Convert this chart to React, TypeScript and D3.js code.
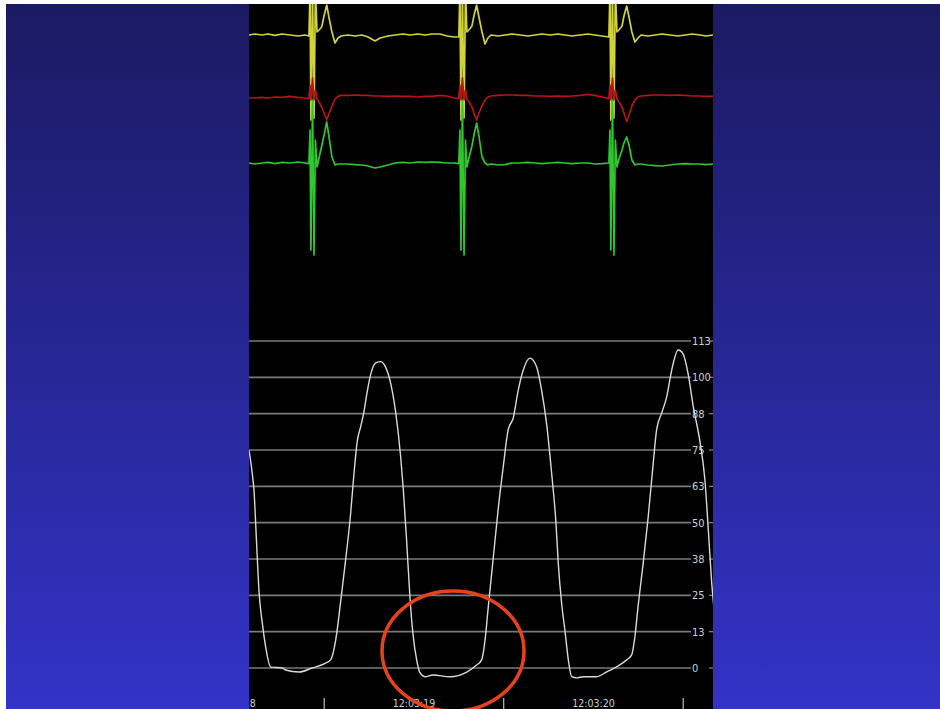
import React, { useEffect, useRef } from 'react';
import * as d3 from 'd3';

// sample times, ms after 12:03:18.000
const ecgTimes = [81, 114, 153, 187, 226, 265, 309, 354, 393, 415,
  421, 426, 435, 443, 451, 460, 471, 486, 499, 514,
  526, 543, 560, 577, 594, 633, 672, 710, 744, 783,
  811, 855, 894, 939, 978, 1022, 1061, 1100, 1145, 1184,
  1223, 1250, 1256, 1262, 1270, 1279, 1287, 1295, 1306, 1323,
  1334, 1349, 1362, 1379, 1396, 1412, 1429, 1468, 1507, 1546,
  1591, 1635, 1674, 1713, 1758, 1802, 1841, 1880, 1925, 1969,
  2008, 2047, 2086, 2092, 2097, 2106, 2114, 2122, 2131, 2142,
  2159, 2170, 2185, 2198, 2214, 2231, 2248, 2265, 2304, 2343,
  2382, 2426, 2471, 2510, 2549, 2593, 2627, 2666];

// three ECG leads, mV
const leadYellow = [0.05, 0.1, 0.05, 0.1, 0.03, 0.1, 0.05, 0, 0.05, 0,
  2.3, -4.2, 2.3, -4.1, 2.3,
  0.2, 0.3, 0.45, 1.0, 1.55, 0.95, 0.2, -0.35, -0.1, 0,
  0.05, 0, 0.05, -0.05, -0.25, -0.1, 0, 0.05, 0.1, 0.05, 0.1, 0.05, 0.1, 0.1, 0, -0.05, -0.05,
  2.3, -4.2, 2.3, -4.1, 2.3,
  0.2, 0.3, 0.5, 1.0, 1.55, 0.95, 0.2, -0.4, -0.1, 0.05,
  0, 0.05, 0.1, 0.05, 0, 0.05, 0.1, 0.05, 0.1, 0.05, 0, 0.05, 0.1, 0.05, 0, -0.05,
  2.3, -4.2, 2.3, -4.1, 2.3,
  0.2, 0.3, 0.5, 1.0, 1.5, 0.95, 0.2, -0.3, -0.1, 0.05,
  0, 0.05, 0.1, 0.05, 0, 0.05, 0.1, 0.05, 0, 0.05];

const leadRed = [0, 0, 0.03, 0, 0.05, 0.03, 0.08, 0.03, 0, -0.03,
  0.65, -0.1, 1.0, -0.1, 0.4,
  -0.05, -0.2, -0.45, -0.75, -1.1, -0.8, -0.4, -0.05, 0.08, 0.13,
  0.13, 0.15, 0.13, 0.13, 0.1, 0.1, 0.08, 0.1, 0.08, 0.08, 0.05, 0.08, 0.08, 0.13, 0.1, 0, -0.03,
  0.65, -0.1, 1.0, -0.1, 0.4,
  -0.05, -0.2, -0.45, -0.75, -1.1, -0.75, -0.4, -0.1, 0.05, 0.1,
  0.13, 0.15, 0.15, 0.13, 0.13, 0.1, 0.1, 0.08, 0.1, 0.08, 0.1, 0.13, 0.18, 0.13, 0.05, -0.03,
  0.65, -0.1, 1.0, -0.1, 0.4,
  -0.05, -0.2, -0.45, -0.75, -1.18, -0.85, -0.4, -0.1, 0.05, 0.1,
  0.13, 0.15, 0.15, 0.13, 0.15, 0.13, 0.1, 0.1, 0.08, 0.08];

const leadGreen = [0, -0.05, 0, 0.03, -0.03, 0.03, 0, 0.05, 0, -0.03,
  1.65, -4.35, 3.15, -4.6, 1.15,
  -0.2, 0.25, 0.85, 1.38, 2.05, 1.35, 0.3, -0.1, -0.05, -0.05,
  -0.05, -0.08, -0.1, -0.15, -0.25, -0.2, -0.1, 0, 0.03, 0, 0.05, 0.03, 0.05, 0.03, 0, 0, -0.03,
  1.65, -4.35, 3.15, -4.6, 1.15,
  -0.2, 0.25, 0.85, 1.38, 2.0, 1.35, 0.3, 0, -0.1, -0.05,
  -0.1, -0.08, 0, 0, 0.03, 0, -0.03, 0, 0.03, 0, -0.03, 0, 0, -0.05, -0.03, 0,
  1.65, -4.35, 3.15, -4.6, 1.15,
  -0.2, 0.2, 0.65, 1.0, 1.3, 0.9, 0.15, -0.1, -0.05, -0.05,
  -0.1, -0.13, -0.15, -0.1, -0.05, -0.03, -0.05, -0.05, -0.08, -0.05];

// pressure trace, ms after 12:03:18.000 and mmHg
const pressureTimes = [81, 99, 109, 118, 127, 136, 155, 174, 202, 266,
  285, 359, 433, 508, 536, 564, 592, 619, 647, 666,
  684, 703, 721, 738, 759, 787, 814, 842, 870, 898,
  926, 940, 959, 978, 994, 1015, 1034, 1061, 1106, 1201,
  1294, 1349, 1377, 1396, 1414, 1442, 1470, 1497, 1525, 1553,
  1581, 1609, 1646, 1684, 1711, 1739, 1767, 1791, 1804, 1823,
  1841, 1860, 1879, 1906, 1943, 2018, 2074, 2129, 2185, 2213,
  2231, 2250, 2277, 2305, 2333, 2352, 2380, 2408, 2436, 2472,
  2500, 2528, 2556, 2593, 2621, 2640, 2658, 2677];
const pressureValues = [75, 67, 61, 50, 38, 27, 15.5, 7.2, 0.3, 0,
  -0.7, -1.4, 0, 1.7, 2.8, 9.6, 23, 37, 53, 67,
  78, 83, 88, 94.5, 101, 105, 105.4, 103.5, 98, 88,
  72.6, 62, 44, 24, 12, 2.8, -1.7, -3, -2.4, -3,
  -1.4, 1, 2.8, 9.6, 21, 38, 55, 69, 82, 86,
  95.6, 102.5, 106.6, 103.5, 95.6, 84, 67, 50, 36, 22,
  13, 2.8, -3, -3.4, -3, -3, -1.3, 0.4, 2.8, 4.5,
  10.8, 22, 36, 52, 70.5, 82, 87.7, 93.3, 102.5, 109.4,
  108, 101, 90, 78, 64.7, 47.5, 30, 17];

const pressureTicks = [0, 12.5, 25, 37.5, 50, 62.5, 75, 87.5, 100, 112.5];
const timeLabels = ['12:03:18', '12:03:19', '12:03:20'];
const timeLabelMs = [0, 1000, 2000];
const timeTickMs = [500, 1500, 2500];

// the circled end-diastolic part
const circledRegion = { t0: 822, t1: 1613, v0: -14.8, v1: 26.5 };

export default function App() {
  const ref = useRef<SVGSVGElement | null>(null);

  useEffect(() => {
    const W = 940, H = 709;
    const panel = { left: 249, right: 713, top: 4, bottom: 709 };
    const font = "'Liberation Sans Narrow', 'DejaVu Sans Condensed', sans-serif";

    const svg = d3.select(ref.current);
    svg.selectAll('*').remove();

    const defs = svg.append('defs');
    const grad = defs.append('linearGradient')
      .attr('id', 'slideBg').attr('x1', 0).attr('y1', 0).attr('x2', 0).attr('y2', 1);
    grad.append('stop').attr('offset', 0).attr('stop-color', '#1b1a62');
    grad.append('stop').attr('offset', 1).attr('stop-color', '#3333c8');
    defs.append('clipPath').attr('id', 'panelClip')
      .append('rect')
      .attr('x', panel.left).attr('y', panel.top)
      .attr('width', panel.right - panel.left).attr('height', panel.bottom - panel.top);

    svg.append('rect').attr('width', W).attr('height', H).attr('fill', '#fff');
    svg.append('rect').attr('x', 6).attr('y', 4).attr('width', W - 6).attr('height', H - 4)
      .attr('fill', 'url(#slideBg)');
    svg.append('rect')
      .attr('x', panel.left).attr('y', panel.top)
      .attr('width', panel.right - panel.left).attr('height', panel.bottom - panel.top)
      .attr('fill', '#000');

    const x = d3.scaleLinear().domain([81, 2666]).range([panel.left, panel.right]);
    const yP = d3.scaleLinear().domain([0, 112.5]).range([668, 341]);

    const plot = svg.append('g').attr('clip-path', 'url(#panelClip)');

    // pressure grid + right axis
    const gridRight = 691;
    plot.selectAll('line.grid')
      .data(pressureTicks)
      .join('line')
      .attr('class', 'grid')
      .attr('x1', panel.left).attr('x2', gridRight)
      .attr('y1', d => yP(d)).attr('y2', d => yP(d))
      .attr('stroke', '#7a7a7a').attr('stroke-width', 1.6);

    plot.selectAll('line.rtick')
      .data(pressureTicks)
      .join('line')
      .attr('class', 'rtick')
      .attr('x1', 709).attr('x2', panel.right)
      .attr('y1', d => yP(d)).attr('y2', d => yP(d))
      .attr('stroke', '#8a8a8a').attr('stroke-width', 1.2);

    plot.selectAll('text.rlab')
      .data(pressureTicks)
      .join('text')
      .attr('class', 'rlab')
      .attr('x', 692)
      .attr('y', d => yP(d))
      .attr('dy', '0.35em')
      .attr('fill', '#cfcfcf')
      .style('font-family', font)
      .style('font-size', '11px')
      .text(d => String(Math.round(d)));

    // time axis
    plot.selectAll('line.ttick')
      .data(timeTickMs)
      .join('line')
      .attr('class', 'ttick')
      .attr('x1', d => x(d)).attr('x2', d => x(d))
      .attr('y1', 698).attr('y2', panel.bottom)
      .attr('stroke', '#bdbdbd').attr('stroke-width', 1.2);

    plot.selectAll('text.tlab')
      .data(timeLabels)
      .join('text')
      .attr('class', 'tlab')
      .attr('x', (d, i) => x(timeLabelMs[i]))
      .attr('y', 706.5)
      .attr('text-anchor', 'middle')
      .attr('fill', '#cfcfcf')
      .style('font-family', font)
      .style('font-size', '10.5px')
      .text(d => d);

    // ECG leads
    const gain = 20; // px per mV
    const leads = [
      { values: leadYellow, base: 36, color: '#d2d23c' },
      { values: leadGreen, base: 163, color: '#2cc82c' },
      { values: leadRed, base: 98, color: '#b81414' },
    ];
    leads.forEach(lead => {
      const y = d3.scaleLinear().domain([0, 1]).range([lead.base, lead.base - gain]);
      const line = d3.line<number>()
        .x((d, i) => x(ecgTimes[i]))
        .y(d => y(d));
      plot.append('path')
        .datum(lead.values)
        .attr('d', line)
        .attr('fill', 'none')
        .attr('stroke', lead.color)
        .attr('stroke-width', 1.7)
        .attr('stroke-linejoin', 'round');
    });

    // pressure trace
    const pLine = d3.line<number>()
      .x((d, i) => x(pressureTimes[i]))
      .y(d => yP(d))
      .curve(d3.curveMonotoneX);
    plot.append('path')
      .datum(pressureValues)
      .attr('d', pLine)
      .attr('fill', 'none')
      .attr('stroke', '#dadada')
      .attr('stroke-width', 1.4);

    // annotation ellipse
    const r = circledRegion;
    svg.append('ellipse')
      .attr('cx', (x(r.t0) + x(r.t1)) / 2)
      .attr('cy', (yP(r.v0) + yP(r.v1)) / 2)
      .attr('rx', (x(r.t1) - x(r.t0)) / 2)
      .attr('ry', (yP(r.v0) - yP(r.v1)) / 2)
      .attr('fill', 'none')
      .attr('stroke', '#e8421d')
      .attr('stroke-width', 3.5);
  }, []);

  return (
    <div style={{ position: 'absolute', left: 0, top: 0 }}>
      <svg ref={ref} width={940} height={709} style={{ display: 'block' }} />
    </div>
  );
}
